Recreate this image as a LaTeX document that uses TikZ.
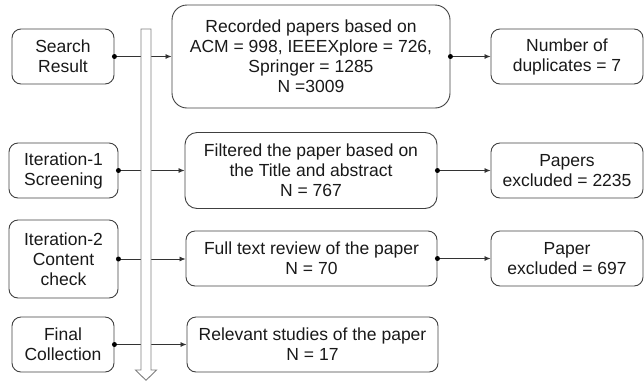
\documentclass[tikz,border=0pt]{standalone}
\usepackage{fontspec}
\setmainfont{Liberation Sans}
\usetikzlibrary{arrows.meta}
\begin{document}
\begin{tikzpicture}[x=1pt,y=-1pt,
  box/.style={draw=black!75, line width=0.9pt, rounded corners=9pt, align=center, inner sep=0pt,
    font=\fontsize{17.5}{20}\selectfont, text=black!90},
  conn/.style={draw=black!80, line width=0.8pt, -{Latex[length=6pt,width=5pt]}},
  dotc/.style={fill=black, circle, inner sep=0pt, minimum size=5pt}]
\useasboundingbox (0,0) rectangle (644,381);
% left column
\node[box, minimum width=102pt, minimum height=55pt] (sr) at (63,56.5) {Search\\Result};
\node[box, minimum width=109pt, minimum height=55pt] (it1) at (63.5,170.5) {Iteration-1\\Screening};
\node[box, minimum width=109pt, minimum height=78pt] (it2) at (63.5,259) {Iteration-2\\Content\\check};
\node[box, minimum width=102pt, minimum height=55pt] (fc) at (63,344.5) {Final\\Collection};
% middle column
\node[box, rounded corners=15pt, minimum width=278pt, minimum height=103pt] (m1) at (311,56.5) {Recorded papers based on\\ACM = 998, IEEEXplore = 726,\\Springer = 1285\\N =3009};
\node[box, rounded corners=12pt, minimum width=252pt, minimum height=76pt] (m2) at (311,170.5) {Filtered the paper based on\\the Title and abstract\\N = 767};
\node[box, minimum width=251pt, minimum height=55pt] (m3) at (311.5,258.5) {Full text review of the paper\\N = 70};
\node[box, minimum width=251pt, minimum height=55pt] (m4) at (312.5,344.5) {Relevant studies of the paper\\N = 17};
% right column
\node[box, minimum width=152pt, minimum height=55pt] (r1) at (567,56.5) {Number of\\duplicates = 7};
\node[box, minimum width=152pt, minimum height=55pt] (r2) at (567,170.5) {Papers\\excluded = 2235};
\node[box, minimum width=152pt, minimum height=55pt] (r3) at (567,258.5) {Paper\\excluded = 697};
% connectors
\draw[conn] (sr.east) -- (sr.east -| m1.west);
\draw[conn] (it1.east) -- (it1.east -| m2.west);
\draw[conn] (it2.east) -- (it2.east -| m3.west);
\draw[conn] (fc.east) -- (fc.east -| m4.west);
\draw[conn] (m1.east) -- (m1.east -| r1.west);
\draw[conn] (m2.east) -- (m2.east -| r2.west);
\draw[conn] (m3.east) -- (m3.east -| r3.west);
\foreach \n in {sr,it1,it2,fc,m1,m2,m3} \node[dotc] at (\n.east) {};
% big hollow arrow
\draw[draw=black!50, line width=0.9pt, fill=white, line join=miter]
  (141,29) -- (151,29) -- (151,370) -- (156.5,370) -- (146,380.3) -- (135.5,370) -- (141,370) -- cycle;
\end{tikzpicture}
\end{document}
